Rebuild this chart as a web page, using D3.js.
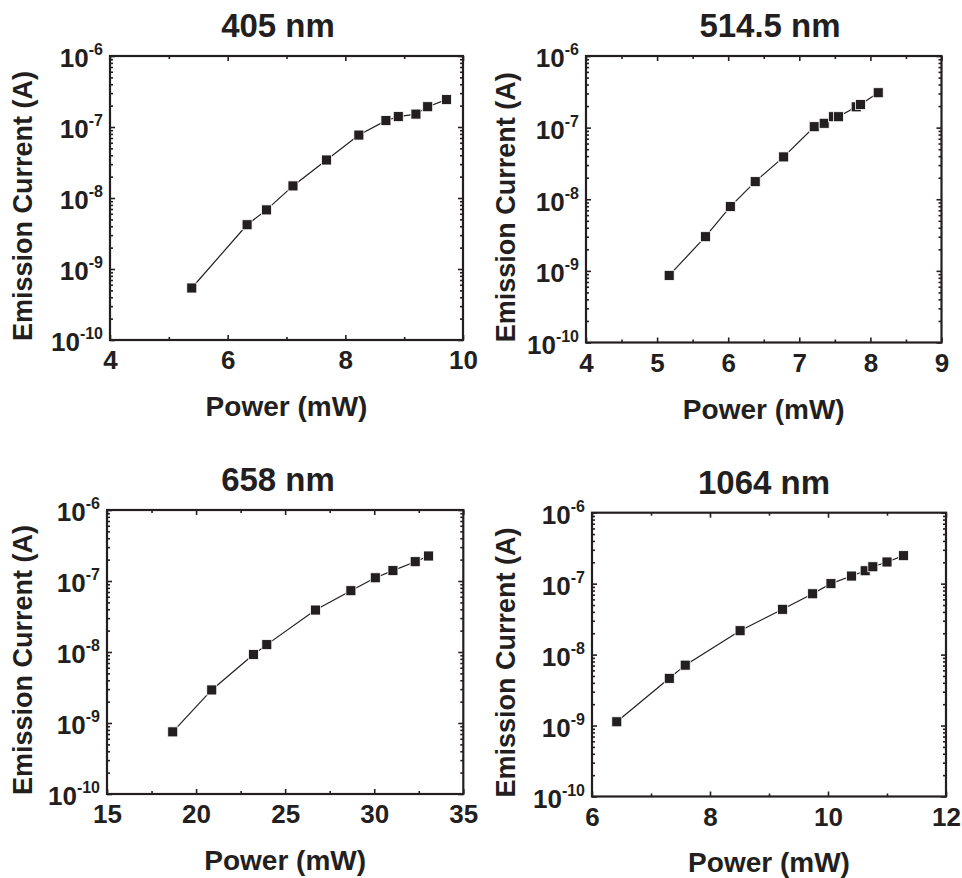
<!DOCTYPE html>
<html>
<head>
<meta charset="utf-8">
<script src="https://cdn.jsdelivr.net/npm/d3@7"></script>
<style>
  body { margin: 0; background: #fff; }
  text { font-family: "Liberation Sans", Arial, sans-serif; font-weight: bold; fill: #231f20; }
</style>
</head>
<body>
<div id="chart"></div>
<script>
// data
var titles = ['405 nm', '514.5 nm', '658 nm', '1064 nm'];

var power405 = [5.39, 6.33, 6.66, 7.11, 7.68, 8.23, 8.69, 8.90, 9.20, 9.40, 9.72];
var current405 = [5.4e-10, 4.2e-9, 6.8e-9, 1.48e-8, 3.43e-8, 7.7e-8, 1.23e-7, 1.40e-7, 1.52e-7, 1.93e-7, 2.43e-7];

var power514 = [5.17, 5.68, 6.03, 6.38, 6.78, 7.21, 7.35, 7.48, 7.55, 7.80, 7.86, 8.11];
var current514 = [8.65e-10, 3.0e-9, 7.9e-9, 1.76e-8, 3.9e-8, 1.03e-7, 1.15e-7, 1.42e-7, 1.42e-7, 1.95e-7, 2.1e-7, 3.07e-7];

var power658 = [18.69, 20.88, 23.22, 23.97, 26.70, 28.69, 30.06, 31.05, 32.30, 33.05];
var current658 = [7.5e-10, 2.92e-9, 9.2e-9, 1.27e-8, 3.9e-8, 7.3e-8, 1.11e-7, 1.40e-7, 1.87e-7, 2.25e-7];

var power1064 = [6.42, 7.31, 7.58, 8.51, 9.23, 9.74, 10.05, 10.40, 10.63, 10.76, 11.0, 11.28];
var current1064 = [1.13e-9, 4.63e-9, 7.1e-9, 2.17e-8, 4.35e-8, 7.2e-8, 1.0e-7, 1.28e-7, 1.52e-7, 1.73e-7, 2.02e-7, 2.48e-7];

var xDomains = [[4, 10], [4, 9], [15, 35], [6, 12]];
var xMajor = [[4, 6, 8, 10], [4, 5, 6, 7, 8, 9], [15, 20, 25, 30, 35], [6, 8, 10, 12]];
var xMinor = [[5, 7, 9], [4.5, 5.5, 6.5, 7.5, 8.5], [17.5, 22.5, 27.5, 32.5], [7, 9, 11]];
var yExponents = [-10, -9, -8, -7, -6];

var powers = [power405, power514, power658, power1064];
var currents = [current405, current514, current658, current1064];

// panel boxes in page pixels
var boxes = [
  {left: 110, top: 56, right: 463, bottom: 340, titleX: 278, ylabX: -87},
  {left: 586, top: 56, right: 941.5, bottom: 342.5, titleX: 770, ylabX: -80},
  {left: 107, top: 510, right: 463.3, bottom: 794, titleX: 278, ylabX: -84},
  {left: 592, top: 512.7, right: 946, bottom: 796.5, titleX: 764, ylabX: -86}
];

var svg = d3.select('#chart').append('svg')
  .attr('width', 962)
  .attr('height', 878);

var yMinor = [];
for (var e = -10; e < -6; e++) {
  for (var m = 2; m <= 9; m++) yMinor.push(m * Math.pow(10, e));
}

boxes.forEach(function(b, k) {
  var w = b.right - b.left, h = b.bottom - b.top;
  var g = svg.append('g').attr('transform', 'translate(' + b.left + ',' + b.top + ')');

  var x = d3.scaleLinear().domain(xDomains[k]).range([0, w]);
  var y = d3.scaleLog().domain([1e-10, 1e-6]).range([h, 0]);
  var yMajor = yExponents.map(function(p) { return Math.pow(10, p); });

  // ticks on all four sides, pointing inward
  var tickSets = [
    [d3.axisBottom(x).tickValues(xMajor[k]).tickSize(-5).tickPadding(11).tickFormat(d3.format('d')), 'translate(0,' + h + ')'],
    [d3.axisBottom(x).tickValues(xMinor[k]).tickSize(-3).tickFormat(''), 'translate(0,' + h + ')'],
    [d3.axisTop(x).tickValues(xMajor[k]).tickSize(-5).tickFormat(''), null],
    [d3.axisTop(x).tickValues(xMinor[k]).tickSize(-3).tickFormat(''), null],
    [d3.axisLeft(y).tickValues(yMajor).tickSize(-5).tickPadding(7), null],
    [d3.axisLeft(y).tickValues(yMinor).tickSize(-3).tickFormat(''), null],
    [d3.axisRight(y).tickValues(yMajor).tickSize(-5).tickFormat(''), 'translate(' + w + ',0)'],
    [d3.axisRight(y).tickValues(yMinor).tickSize(-3).tickFormat(''), 'translate(' + w + ',0)']
  ];
  tickSets.forEach(function(t, i) {
    var a = g.append('g').call(t[0]);
    if (t[1]) a.attr('transform', t[1]);
    a.select('.domain').remove();
    a.selectAll('line').attr('stroke', '#231f20').attr('stroke-width', 1.6);
    a.selectAll('text').attr('font-size', 26).attr('fill', '#231f20')
      .attr('font-family', '"Liberation Sans", Arial, sans-serif');
    if (i === 4) {
      a.selectAll('text').each(function(d) {
        var t = d3.select(this).text('').attr('dy', '0.42em');
        t.append('tspan').text('10');
        t.append('tspan').attr('dy', -12).attr('font-size', 16).text(Math.round(Math.log10(d)));
      });
    }
  });

  g.append('rect')
    .attr('width', w).attr('height', h)
    .attr('fill', 'none').attr('stroke', '#231f20').attr('stroke-width', 2.2);

  var pts = powers[k].map(function(p, i) { return [p, currents[k][i]]; });

  g.append('path')
    .datum(pts)
    .attr('fill', 'none')
    .attr('stroke', '#231f20')
    .attr('stroke-width', 1.2)
    .attr('d', d3.line().x(function(d) { return x(d[0]); }).y(function(d) { return y(d[1]); }));

  g.selectAll('rect.pt')
    .data(pts)
    .enter()
    .append('rect')
    .attr('class', 'pt')
    .attr('x', function(d) { return x(d[0]) - 5; })
    .attr('y', function(d) { return y(d[1]) - 5; })
    .attr('width', 10)
    .attr('height', 10)
    .attr('fill', '#231f20')
    .attr('stroke', '#fff')
    .attr('stroke-width', 0.8);

  svg.append('text')
    .attr('x', b.titleX).attr('y', b.top - 19)
    .attr('text-anchor', 'middle').attr('font-size', 33)
    .text(titles[k]);

  g.append('text')
    .attr('x', w / 2).attr('y', h + 76)
    .attr('text-anchor', 'middle').attr('font-size', 28)
    .text('Power (mW)');

  g.append('text')
    .attr('transform', 'translate(' + b.ylabX + ',' + (h / 2 + 8) + ') rotate(-90)')
    .attr('text-anchor', 'middle').attr('dy', '0.35em').attr('font-size', 27)
    .text('Emission Current (A)');
});
</script>
</body>
</html>
